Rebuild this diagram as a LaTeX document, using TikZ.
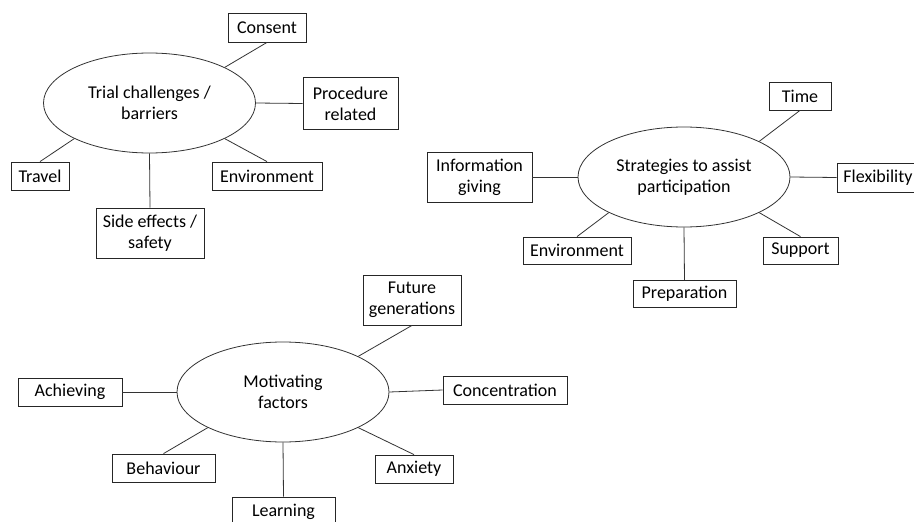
\documentclass[tikz,border=0pt]{standalone}
\usepackage{fontspec}
\setmainfont{Carlito}
\usetikzlibrary{shapes.geometric}
\tikzset{
	topic/.style={draw=black!80, ellipse, line width=0.8pt, minimum width=212, minimum height=100, inner sep=0pt, align=center},
	item/.style={draw=black!85, rectangle, line width=0.8pt, minimum height=28, inner sep=0pt, align=center},
	link/.style={draw=black!80, line width=0.8pt}
}
\begin{document}
\begin{tikzpicture}[x=1pt, y=-1pt, font=\fontsize{18}{21}\selectfont]
		\useasboundingbox [fill=white] (0, 0) rectangle (914, 522);
		\node [topic] (trial) at (149.5, 103) {Trial challenges /\\barriers};
		\node [item, minimum width=78, minimum height=29] (consent) at (267, 27.5) {Consent};
		\node [item, minimum width=95, minimum height=52] (procedure) at (350.5, 103.5) {Procedure\\related};
		\node [item, minimum width=58] (travel) at (40, 176) {Travel};
		\node [item, minimum width=110] (envA) at (267, 176) {Environment};
		\node [item, minimum width=108, minimum height=50] (side) at (150, 233) {Side effects /\\safety};
		\draw [link] (consent.south) -- (trial.north east);
		\draw [link] (procedure.west) -- (trial.east);
		\draw [link] (travel.north) -- (trial.south west);
		\draw [link] (envA.north) -- (trial.south east);
		\draw [link] (side.north) -- (trial.south);
		\node [topic] (strategies) at (684, 177) {Strategies to assist\\participation};
		\node [item, minimum width=62] (time) at (800, 96) {Time};
		\node [item, minimum width=105, minimum height=50] (info) at (479.5, 177) {Information\\giving};
		\node [item, minimum width=82, minimum height=29] (flex) at (878, 177.5) {Flexibility};
		\node [item, minimum width=108, minimum height=27] (envB) at (577, 250.5) {Environment};
		\node [item, minimum width=75, minimum height=27] (support) at (800.5, 250.5) {Support};
		\node [item, minimum width=103, minimum height=27] (prep) at (684.5, 294) {Preparation};
		\draw [link] (time.south) -- (strategies.north east);
		\draw [link] (info.east) -- (strategies.west);
		\draw [link] (flex.west) -- (strategies.east);
		\draw [link] (envB.north) -- (strategies.south west);
		\draw [link] (support.north) -- (strategies.south east);
		\draw [link] (prep.north) -- (strategies.south);
		\node [topic] (motivating) at (283, 392) {Motivating\\factors};
		\node [item, minimum width=98, minimum height=50] (future) at (412, 300) {Future\\generations};
		\node [item, minimum width=104] (achieving) at (70, 392) {Achieving};
		\node [item, minimum width=124] (concentration) at (505, 390) {Concentration};
		\node [item, minimum width=103] (behaviour) at (163.5, 468) {Behaviour};
		\node [item, minimum width=78] (anxiety) at (414, 469) {Anxiety};
		\node [item, minimum width=103, minimum height=29] (learning) at (283.5, 511.5) {Learning};
		\draw [link] (future.south) -- (motivating.north east);
		\draw [link] (achieving.east) -- (motivating.west);
		\draw [link] (concentration.west) -- (motivating.east);
		\draw [link] (behaviour.north) -- (motivating.south west);
		\draw [link] (anxiety.north) -- (motivating.south east);
		\draw [link] (learning.north) -- (motivating.south);
	\end{tikzpicture}
\end{document}
